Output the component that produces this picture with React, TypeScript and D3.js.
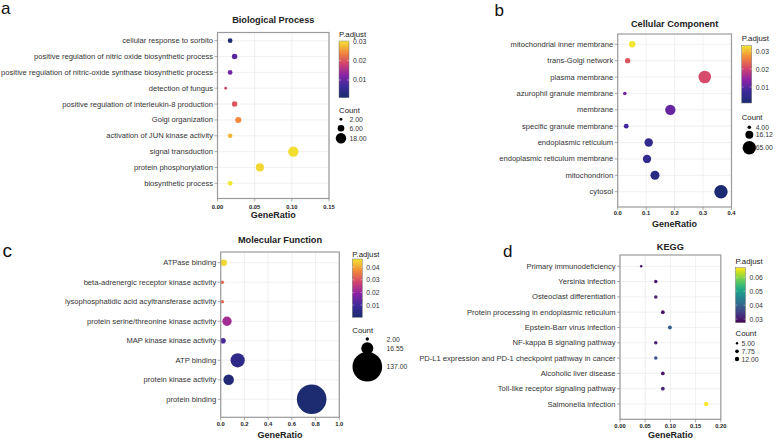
import React from "react";
import * as d3 from "d3";

// ---------- Data ----------
const bpTerms = [
  "cellular response to sorbito",
  "positive regulation of nitric oxide biosynthetic process",
  "positive regulation of nitric-oxide synthase biosynthetic process",
  "detection of fungus",
  "positive regulation of interleukin-8 production",
  "Golgi organization",
  "activation of JUN kinase activity",
  "signal transduction",
  "protein phosphorylation",
  "biosynthetic process",
];
const bpRatio = [0.017, 0.023, 0.017, 0.011, 0.023, 0.028, 0.017, 0.102, 0.057, 0.017];
const bpCount = [3, 4, 3, 2, 4, 5, 3, 18, 10, 3];
const bpPadj = [0.0012, 0.009, 0.011, 0.019, 0.02, 0.024, 0.027, 0.0295, 0.029, 0.03];
const bpXTicks = [0, 0.05, 0.1, 0.15];
const bpPadjTicks = [0.01, 0.02, 0.03];
const bpCountTicks = [2, 6, 18];

const ccTerms = [
  "mitochondrial inner membrane",
  "trans-Golgi network",
  "plasma membrane",
  "azurophil granule membrane",
  "membrane",
  "specific granule membrane",
  "endoplasmic reticulum",
  "endoplasmic reticulum membrane",
  "mitochondrion",
  "cytosol",
];
const ccRatio = [0.051, 0.035, 0.306, 0.025, 0.185, 0.03, 0.109, 0.103, 0.131, 0.363];
const ccCount = [9, 6, 55, 4, 33, 5, 19, 18, 23, 65];
const ccPadj = [0.033, 0.022, 0.021, 0.012, 0.011, 0.008, 0.006, 0.006, 0.004, 0.0012];
const ccXTicks = [0, 0.1, 0.2, 0.3, 0.4];
const ccPadjTicks = [0.01, 0.02, 0.03];
const ccCountTicks = [4, 16.12, 65];

const mfTerms = [
  "ATPase binding",
  "beta-adrenergic receptor kinase activity",
  "lysophosphatidic acid acyltransferase activity",
  "protein serine/threonine kinase activity",
  "MAP kinase kinase activity",
  "ATP binding",
  "protein kinase activity",
  "protein binding",
];
const mfRatio = [0.025, 0.014, 0.014, 0.053, 0.019, 0.143, 0.067, 0.767];
const mfCount = [4, 2, 2, 9, 3, 25, 12, 137];
const mfPadj = [0.045, 0.033, 0.033, 0.022, 0.011, 0.006, 0.002, 0.0005];
const mfXTicks = [0, 0.2, 0.4, 0.6, 0.8, 1.0];
const mfPadjTicks = [0.01, 0.02, 0.03, 0.04];
const mfCountTicks = [2, 16.55, 137];

const keggTerms = [
  "Primary immunodeficiency",
  "Yersinia infection",
  "Osteoclast differentiation",
  "Protein processing in endoplasmic reticulum",
  "Epstein-Barr virus infection",
  "NF-kappa B signaling pathway",
  "PD-L1 expression and PD-1 checkpoint pathway in cancer",
  "Alcoholic liver disease",
  "Toll-like receptor signaling pathway",
  "Salmonella infection",
];
const keggRatio = [0.042, 0.071, 0.071, 0.085, 0.099, 0.071, 0.071, 0.085, 0.085, 0.171];
const keggCount = [5, 7, 7, 8, 9, 7, 7, 8, 8, 12];
const keggPadj = [0.029, 0.03, 0.031, 0.029, 0.039, 0.031, 0.037, 0.03, 0.031, 0.0669];
const keggXTicks = [0, 0.05, 0.1, 0.15, 0.2];
const keggPadjTicks = [0.03, 0.04, 0.05, 0.06];
const keggCountTicks = [5, 7.75, 12];

// ---------- Styling ----------
const FONT = "'Liberation Sans', Arial, Helvetica, sans-serif";
const plasmaLike = d3.piecewise(d3.interpolateRgb, [
  "#1c2b70",
  "#3a2a98",
  "#8a23a6",
  "#d2436f",
  "#f28a3a",
  "#f2e630",
]);

type Layout = {
  id: string;
  letter: string;
  letterX: number;
  letterY: number;
  letterSize: number;
  title: string;
  titleY: number;
  x0: number;
  x1: number;
  y0: number;
  y1: number;
  rowFirst: number;
  rowLast: number;
  tickLabelY: number;
  xLabelY: number;
  xMax: number;
  tickFmt: string;
  barX: number;
  barY0: number;
  barY1: number;
  padjDomain: [number, number];
  padjTitleY: number;
  countTitleY: number;
  countDotX: number;
  countDotYs: number[];
  countLabelX: number;
  rRange: [number, number];
  interp: (t: number) => string;
};

type PanelData = {
  terms: string[];
  ratio: number[];
  count: number[];
  padj: number[];
  xTicks: number[];
  padjTicks: number[];
  countTicks: number[];
};

function Panel({ L, D }: { L: Layout; D: PanelData }) {
  const x = d3.scaleLinear().domain([0, L.xMax]).range([L.x0, L.x1]);
  const y = d3.scalePoint<string>().domain(D.terms).range([L.rowFirst, L.rowLast]);
  const cMin = d3.min(D.count) as number;
  const cMax = d3.max(D.count) as number;
  const norm = d3.scaleLinear().domain([cMin, cMax]).range([0, 1]).clamp(true);
  const rad = d3.scaleSqrt().domain([0, 1]).range(L.rRange);
  const r = (c: number) => rad(norm(c));
  const cNorm = d3.scaleLinear().domain(L.padjDomain).range([0, 1]).clamp(true);
  const color = (p: number) => L.interp(cNorm(p));
  const barY = d3.scaleLinear().domain(L.padjDomain).range([L.barY1, L.barY0]);
  const fmt = d3.format(L.tickFmt);
  const cx = (L.x0 + L.x1) / 2;
  const barW = 10;
  const stops = d3.range(0, 1.0001, 0.05);
  const gid = `grad-${L.id}`;
  const order = D.terms.map((_, i) => i).sort((a, b) => D.count[b] - D.count[a]);

  return (
    <g>
      <defs>
        <linearGradient id={gid} x1="0" y1="1" x2="0" y2="0">
          {stops.map((s) => (
            <stop key={s} offset={s} stopColor={L.interp(s)} />
          ))}
        </linearGradient>
      </defs>
      <text x={L.letterX} y={L.letterY} fontSize={L.letterSize} fontFamily={FONT} fill="#111">
        {L.letter}
      </text>
      <text x={cx} y={L.titleY} textAnchor="middle" dominantBaseline="middle" fontSize={9.2} fontWeight="bold" fontFamily={FONT} fill="#222">
        {L.title}
      </text>
      {/* panel background & grid */}
      <rect x={L.x0} y={L.y0} width={L.x1 - L.x0} height={L.y1 - L.y0} fill="#fff" />
      {D.xTicks.map((t) => (
        <line key={"gx" + t} x1={x(t)} x2={x(t)} y1={L.y0} y2={L.y1} stroke="#e6e6e6" strokeWidth={0.6} />
      ))}
      {D.terms.map((t) => (
        <line key={"gy" + t} x1={L.x0} x2={L.x1} y1={y(t)} y2={y(t)} stroke="#e6e6e6" strokeWidth={0.6} />
      ))}
      {/* points */}
      {order.map((i) => (
        <circle key={D.terms[i]} cx={x(D.ratio[i])} cy={y(D.terms[i])} r={r(D.count[i])} fill={color(D.padj[i])} />
      ))}
      <rect x={L.x0} y={L.y0} width={L.x1 - L.x0} height={L.y1 - L.y0} fill="none" stroke="#9a9a9a" strokeWidth={1.2} />
      {/* y axis */}
      {D.terms.map((t) => (
        <g key={"yl" + t}>
          <line x1={L.x0 - 3} x2={L.x0} y1={y(t)} y2={y(t)} stroke="#888" strokeWidth={0.7} />
          <text x={L.x0 - 4.5} y={y(t)} textAnchor="end" dominantBaseline="central" fontSize={7.6} fontFamily={FONT} fill="#333">
            {t}
          </text>
        </g>
      ))}
      {/* x axis */}
      {D.xTicks.map((t) => (
        <g key={"xl" + t}>
          <line x1={x(t)} x2={x(t)} y1={L.y1} y2={L.y1 + 3} stroke="#888" strokeWidth={0.7} />
          <text x={x(t)} y={L.tickLabelY} textAnchor="middle" dominantBaseline="central" fontSize={5.8} fontWeight="bold" fontFamily={FONT} fill="#222">
            {fmt(t)}
          </text>
        </g>
      ))}
      <text x={cx} y={L.xLabelY} textAnchor="middle" dominantBaseline="central" fontSize={9} fontWeight="bold" fontFamily={FONT} fill="#222">
        GeneRatio
      </text>
      {/* colour legend */}
      <text x={L.barX} y={L.padjTitleY} dominantBaseline="central" fontSize={7.8} fontFamily={FONT} fill="#222">
        P.adjust
      </text>
      <rect x={L.barX} y={L.barY0} width={barW} height={L.barY1 - L.barY0} fill={`url(#${gid})`} stroke="#777" strokeWidth={0.5} />
      {D.padjTicks.map((t) => (
        <g key={"pt" + t}>
          <line x1={L.barX} x2={L.barX + 2} y1={barY(t)} y2={barY(t)} stroke="#fff" strokeWidth={0.5} opacity={0.7} />
          <line x1={L.barX + barW - 2} x2={L.barX + barW} y1={barY(t)} y2={barY(t)} stroke="#fff" strokeWidth={0.5} opacity={0.7} />
          <text x={L.barX + barW + 4} y={barY(t)} dominantBaseline="central" fontSize={6.8} fontFamily={FONT} fill="#333">
            {d3.format(".2f")(t)}
          </text>
        </g>
      ))}
      {/* size legend */}
      <text x={L.barX} y={L.countTitleY} dominantBaseline="central" fontSize={7.8} fontFamily={FONT} fill="#222">
        Count
      </text>
      {D.countTicks.map((c, i) => (
        <g key={"ct" + c}>
          <circle cx={L.countDotX} cy={L.countDotYs[i]} r={r(c)} fill="#000" />
          <text x={L.countLabelX} y={L.countDotYs[i]} dominantBaseline="central" fontSize={6.8} fontFamily={FONT} fill="#333">
            {d3.format(".2f")(c)}
          </text>
        </g>
      ))}
    </g>
  );
}

const layouts: Layout[] = [
  {
    id: "a", letter: "a", letterX: 1, letterY: 14, letterSize: 17,
    title: "Biological Process", titleY: 21,
    x0: 217.5, x1: 329, y0: 32.5, y1: 198.5, rowFirst: 40.7, rowLast: 183.3,
    tickLabelY: 206.7, xLabelY: 215, xMax: 0.15, tickFmt: ".2f",
    barX: 339, barY0: 41, barY1: 97.7, padjDomain: [0.0009, 0.03],
    padjTitleY: 34.5, countTitleY: 110.3, countDotX: 341, countDotYs: [119.3, 128.3, 138.3], countLabelX: 349.5,
    rRange: [1.4, 5.2], interp: plasmaLike,
  },
  {
    id: "b", letter: "b", letterX: 494.5, letterY: 16, letterSize: 17,
    title: "Cellular Component", titleY: 24.5,
    x0: 617.7, x1: 731.5, y0: 34, y1: 207, rowFirst: 44.3, rowLast: 191.7,
    tickLabelY: 212.7, xLabelY: 224, xMax: 0.4, tickFmt: ".1f",
    barX: 741.7, barY0: 45.7, barY1: 103, padjDomain: [0.0011, 0.033],
    padjTitleY: 38, countTitleY: 117.3, countDotX: 749.3, countDotYs: [127.3, 134.7, 147.7], countLabelX: 755.7,
    rRange: [1.8, 6.7], interp: plasmaLike,
  },
  {
    id: "c", letter: "c", letterX: 2.5, letterY: 256.7, letterSize: 19,
    title: "Molecular Function", titleY: 240.7,
    x0: 220.7, x1: 339.3, y0: 252, y1: 417.3, rowFirst: 262.7, rowLast: 399.3,
    tickLabelY: 424, xLabelY: 435, xMax: 1.0, tickFmt: ".1f",
    barX: 352.3, barY0: 259, barY1: 317.3, padjDomain: [0.0003, 0.0465],
    padjTitleY: 254.3, countTitleY: 330, countDotX: 367.3, countDotYs: [339, 348.3, 366.7], countLabelX: 386.5,
    rRange: [1.7, 14.8], interp: plasmaLike,
  },
  {
    id: "d", letter: "d", letterX: 503, letterY: 257.3, letterSize: 17,
    title: "KEGG", titleY: 247.3,
    x0: 620, x1: 720.8, y0: 255, y1: 419.3, rowFirst: 266.3, rowLast: 404,
    tickLabelY: 425.7, xLabelY: 435, xMax: 0.2, tickFmt: ".2f",
    barX: 735.5, barY0: 267.7, barY1: 322.7, padjDomain: [0.0274, 0.0669],
    padjTitleY: 261.7, countTitleY: 333.3, countDotX: 737, countDotYs: [343.3, 351.3, 359], countLabelX: 741.5,
    rRange: [1.2, 2.2], interp: d3.interpolateViridis,
  },
];

const datasets: PanelData[] = [
  { terms: bpTerms, ratio: bpRatio, count: bpCount, padj: bpPadj, xTicks: bpXTicks, padjTicks: bpPadjTicks, countTicks: bpCountTicks },
  { terms: ccTerms, ratio: ccRatio, count: ccCount, padj: ccPadj, xTicks: ccXTicks, padjTicks: ccPadjTicks, countTicks: ccCountTicks },
  { terms: mfTerms, ratio: mfRatio, count: mfCount, padj: mfPadj, xTicks: mfXTicks, padjTicks: mfPadjTicks, countTicks: mfCountTicks },
  { terms: keggTerms, ratio: keggRatio, count: keggCount, padj: keggPadj, xTicks: keggXTicks, padjTicks: keggPadjTicks, countTicks: keggCountTicks },
];

export default function App() {
  return (
    <svg
      width={777}
      height={439}
      viewBox="0 0 777 439"
      style={{ position: "absolute", left: 0, top: 0, display: "block", background: "#fff" }}
    >
      <rect x={0} y={0} width={777} height={439} fill="#fff" />
      {layouts.map((L, i) => (
        <Panel key={L.id} L={L} D={datasets[i]} />
      ))}
    </svg>
  );
}
